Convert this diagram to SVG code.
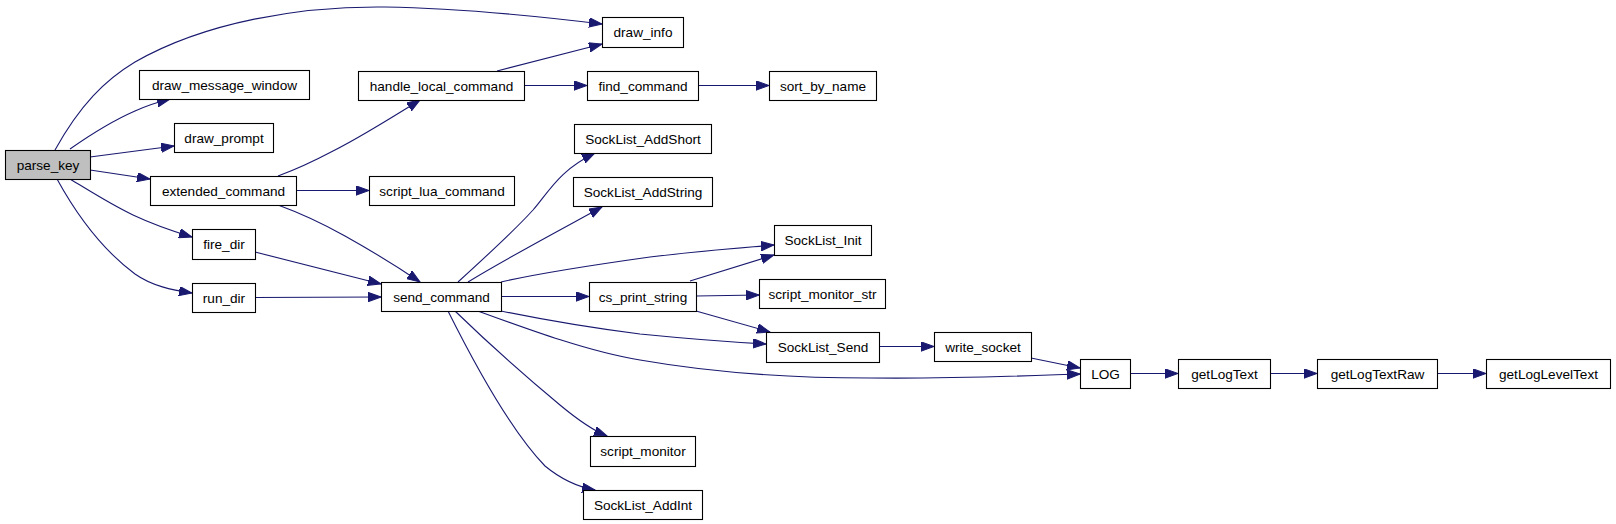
<svg xmlns="http://www.w3.org/2000/svg" width="1616" height="524" viewBox="0 0 1616 524">
<style>
.n rect{fill:#fff;stroke:#000;stroke-width:1.1}
.n text{font-family:"Liberation Sans",Arial,sans-serif;font-size:13.6px;text-anchor:middle;fill:#000}
#edges path{fill:none;stroke:#191970;stroke-width:1.1;marker-end:url(#ah)}
</style>
<defs>
<marker id="ah" markerUnits="userSpaceOnUse" markerWidth="14" markerHeight="10" refX="13" refY="4.7" orient="auto">
<path d="M0,0 L13,4.7 L0,9.4 z" fill="#191970" stroke="#191970" stroke-width="1"/>
</marker>
</defs>
<rect width="1616" height="524" fill="#fff"/>
<g id="edges">
<path d="M55,150 C80,105 105,80 135,62 C205,22 300,6 385,7 C450,8 520,14 602,24"/>
<path d="M70,149 C90,135 112,121 135,111 C146,106 158,102 170,99"/>
<path d="M90,157 L174,146"/>
<path d="M90,170 L150,179"/>
<path d="M70,179 C90,191 110,204 133,215 C150,223 172,231 192,237"/>
<path d="M57,179 C74,210 100,248 135,274 C152,286 172,290 192,293"/>
<path d="M278,176 C297,169 316,160 333,151 C357,139 380,125 420,100"/>
<path d="M296,190.5 L369,190.5"/>
<path d="M278,205 C300,213 320,222 345,236 C370,250 395,265 420,282"/>
<path d="M255,252 L381,284"/>
<path d="M255,297.5 L381,297"/>
<path d="M497,71 L602,44"/>
<path d="M524,85.5 L587,85.5"/>
<path d="M698,85.5 L769,85.5"/>
<path d="M458,282 C480,262 515,230 533,210 C550,190 560,170 595,153"/>
<path d="M468,282 C500,262 560,230 602,207"/>
<path d="M501,282 C540,273 600,264 650,257 C700,251 740,248 774,245"/>
<path d="M501,296.5 L589,296.5"/>
<path d="M690,281 L774,255"/>
<path d="M696,296 L759,295"/>
<path d="M696,311 L770,332"/>
<path d="M501,311 C540,319 600,329 640,334 C690,339 730,342 766,344"/>
<path d="M478,311 C530,330 590,352 640,360 C720,374 800,378 870,378 C950,379 1020,376 1080,374"/>
<path d="M455,311 C485,340 520,372 560,405 C578,420 592,430 607,436"/>
<path d="M448,311 C470,355 510,430 545,466 C562,480 578,487 595,490"/>
<path d="M879,346.5 L934,346.5"/>
<path d="M1031,358 L1080,368"/>
<path d="M1130,373.5 L1178,373.5"/>
<path d="M1270,373.5 L1317,373.5"/>
<path d="M1437,373.5 L1486,373.5"/>
</g>
<g id="parse_key" class="n"><rect x="5.5" y="150.5" width="85" height="29" style="fill:#bfbfbf"/><text x="48" y="169.5">parse_key</text></g>
<g id="draw_info" class="n"><rect x="602.5" y="17.5" width="81" height="30"/><text x="643" y="37">draw_info</text></g>
<g id="draw_message_window" class="n"><rect x="139.5" y="70.5" width="170" height="29"/><text x="224.5" y="89.5">draw_message_window</text></g>
<g id="handle_local_command" class="n"><rect x="358.5" y="71.5" width="166" height="29"/><text x="441.5" y="90.5">handle_local_command</text></g>
<g id="find_command" class="n"><rect x="587.5" y="71.5" width="111" height="29"/><text x="643" y="90.5">find_command</text></g>
<g id="sort_by_name" class="n"><rect x="769.5" y="71.5" width="107" height="29"/><text x="823" y="90.5">sort_by_name</text></g>
<g id="draw_prompt" class="n"><rect x="174.5" y="123.5" width="99" height="29"/><text x="224" y="142.5">draw_prompt</text></g>
<g id="SockList_AddShort" class="n"><rect x="574.5" y="124.5" width="137" height="29"/><text x="643" y="143.5">SockList_AddShort</text></g>
<g id="extended_command" class="n"><rect x="150.5" y="176.5" width="146" height="29"/><text x="223.5" y="195.5">extended_command</text></g>
<g id="script_lua_command" class="n"><rect x="369.5" y="176.5" width="145" height="29"/><text x="442" y="195.5">script_lua_command</text></g>
<g id="SockList_AddString" class="n"><rect x="573.5" y="177.5" width="139" height="29"/><text x="643" y="196.5">SockList_AddString</text></g>
<g id="fire_dir" class="n"><rect x="192.5" y="229.5" width="63" height="30"/><text x="224" y="249">fire_dir</text></g>
<g id="SockList_Init" class="n"><rect x="774.5" y="225.5" width="97" height="30"/><text x="823" y="245">SockList_Init</text></g>
<g id="run_dir" class="n"><rect x="192.5" y="283.5" width="63" height="29"/><text x="224" y="302.5">run_dir</text></g>
<g id="send_command" class="n"><rect x="381.5" y="282.5" width="120" height="29"/><text x="441.5" y="301.5">send_command</text></g>
<g id="cs_print_string" class="n"><rect x="589.5" y="282.5" width="107" height="29"/><text x="643" y="301.5">cs_print_string</text></g>
<g id="script_monitor_str" class="n"><rect x="759.5" y="279.5" width="126" height="29"/><text x="822.5" y="298.5">script_monitor_str</text></g>
<g id="SockList_Send" class="n"><rect x="766.5" y="332.5" width="113" height="30"/><text x="823" y="352">SockList_Send</text></g>
<g id="write_socket" class="n"><rect x="934.5" y="332.5" width="97" height="29"/><text x="983" y="351.5">write_socket</text></g>
<g id="LOG" class="n"><rect x="1080.5" y="359.5" width="50" height="29"/><text x="1105.5" y="378.5">LOG</text></g>
<g id="getLogText" class="n"><rect x="1178.5" y="359.5" width="92" height="29"/><text x="1224.5" y="378.5">getLogText</text></g>
<g id="getLogTextRaw" class="n"><rect x="1317.5" y="359.5" width="120" height="29"/><text x="1377.5" y="378.5">getLogTextRaw</text></g>
<g id="getLogLevelText" class="n"><rect x="1486.5" y="359.5" width="124" height="29"/><text x="1548.5" y="378.5">getLogLevelText</text></g>
<g id="script_monitor" class="n"><rect x="590.5" y="436.5" width="105" height="30"/><text x="643" y="456">script_monitor</text></g>
<g id="SockList_AddInt" class="n"><rect x="583.5" y="490.5" width="119" height="29"/><text x="643" y="509.5">SockList_AddInt</text></g>
</svg>
